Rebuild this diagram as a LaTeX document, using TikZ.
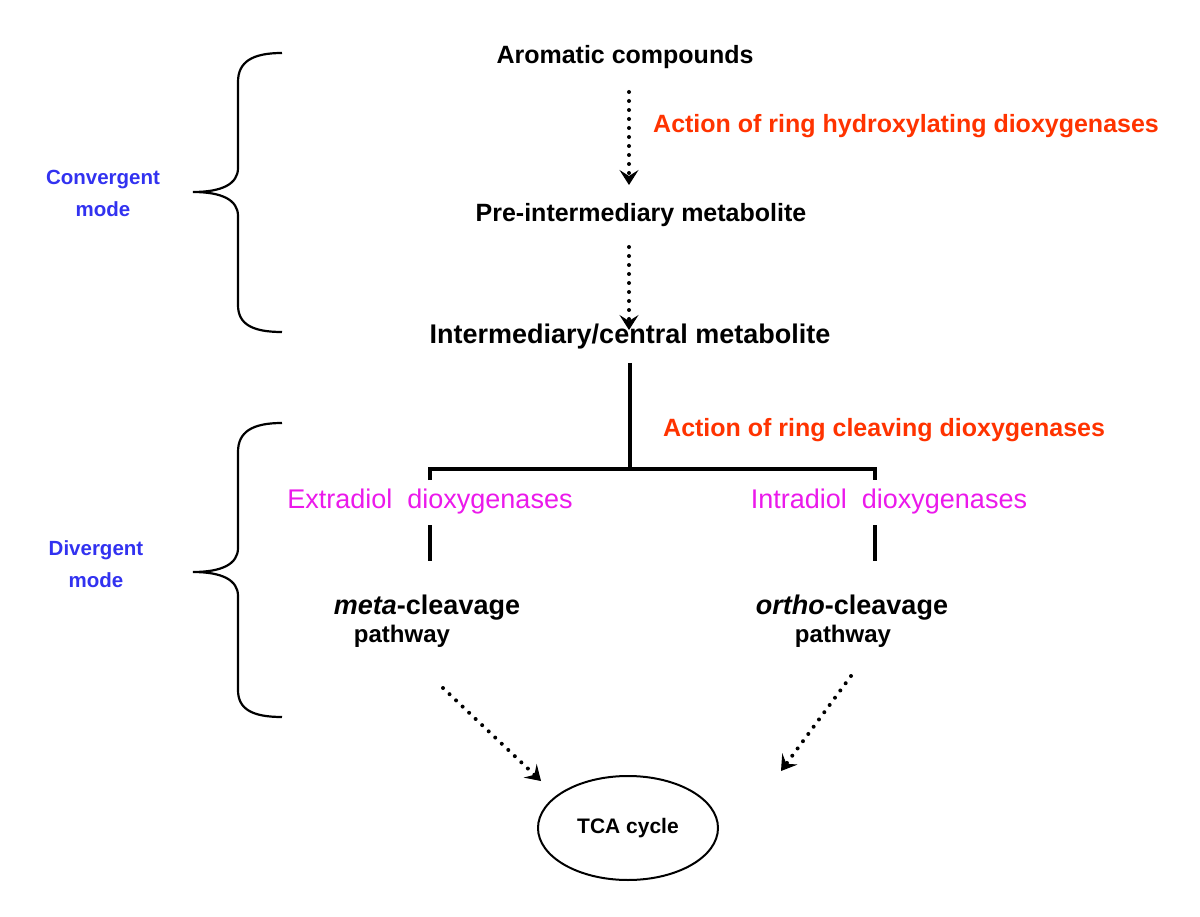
\documentclass[tikz,border=0pt]{standalone}
\usepackage{fontspec}
\setmainfont{Liberation Sans}
\usepackage{tikz}
\usetikzlibrary{arrows.meta,calc,positioning,shapes.geometric}
\definecolor{aktrot}{RGB}{255,51,0}
\definecolor{enzlila}{RGB}{235,25,235}
\definecolor{modblau}{RGB}{50,50,240}
\begin{document}
\begin{tikzpicture}[x=1pt,y=-1pt,
  stoff/.style={font=\fontsize{#1}{#1}\selectfont\bfseries,inner sep=1pt},
  stoff/.default=25,
  aktion/.style={font=\fontsize{25}{28}\selectfont\bfseries,text=aktrot,inner sep=1pt},
  enzym/.style={font=\fontsize{27}{30}\selectfont,text=enzlila,inner sep=1pt},
  modus/.style={font=\fontsize{20.5}{32}\selectfont\bfseries,text=modblau,align=center,inner sep=1pt},
  punktpfeil/.style={line width=4pt,dash pattern=on 0pt off 9pt,line cap=round,
    -{Stealth[length=15pt,width=19pt,inset=6pt,line width=1pt]}},
  linie/.style={line width=3.5pt},
  klammer/.style={line width=2.2pt}]
\useasboundingbox (0,0) rectangle (1200,917);
%Hauptkette
\node[stoff] (aro) at (625,57) {Aromatic compounds};
\node[stoff] (pre) at (641,215) {Pre-intermediary metabolite};
\node[stoff=27] (inter) at (630,337) {Intermediary/central metabolite};
\draw[punktpfeil] (629,92) -- (629,185);
\draw[punktpfeil] (629,247) -- (629,330);
\node[aktion,anchor=west] (hydrox) at (652,126) {Action of ring hydroxylating dioxygenases};
%Spaltung
\coordinate (split) at (630,469);
\coordinate (lend) at (430,469);
\coordinate (rend) at (875,469);
\draw[linie] (inter.south) ++(0,12) -- (split);
\draw[linie] ($(lend)+(0,11)$) -- (lend) -- (rend) -- ++(0,11);
\node[aktion,anchor=west] (cleav) at (662,430) {Action of ring cleaving dioxygenases};
\node[enzym] (extra) at (430,502) {Extradiol\ \ dioxygenases};
\node[enzym] (intra) at (889,502) {Intradiol\ \ dioxygenases};
\draw[linie] (430,525) -- (430,561);
\draw[linie] (875,525) -- (875,561);
\node[stoff=27] (meta) at (427,608) {\textit{meta}-cleavage};
\node[stoff=24] (metap) at (402,636) {pathway};
\node[stoff=27] (ortho) at (852,608) {\textit{ortho}-cleavage};
\node[stoff=24] (orthop) at (843,636) {pathway};
%TCA
\node[ellipse,draw,line width=2pt,minimum width=180pt,minimum height=104pt,
  stoff=21,inner sep=0pt] (tca) at (628,828) {TCA cycle};
\draw[punktpfeil] (443,688) -- (541,781);
\draw[punktpfeil] (851,676) -- (781,771);
%Klammern
\draw[klammer] (282,53) .. controls (252,53) and (238,62) .. (238,82) -- (238,168)
  .. controls (238,184) and (222,192) .. (193,192)
  .. controls (222,192) and (238,200) .. (238,216) -- (238,305)
  .. controls (238,324) and (252,332) .. (282,332);
\draw[klammer] (282,423) .. controls (252,423) and (238,432) .. (238,452) -- (238,548)
  .. controls (238,564) and (222,572) .. (193,572)
  .. controls (222,572) and (238,580) .. (238,596) -- (238,690)
  .. controls (238,709) and (252,717) .. (282,717);
\node[modus] (konv) at (103,193) {Convergent\\mode};
\node[modus] (div) at (96,564) {Divergent\\mode};
\end{tikzpicture}
\end{document}
